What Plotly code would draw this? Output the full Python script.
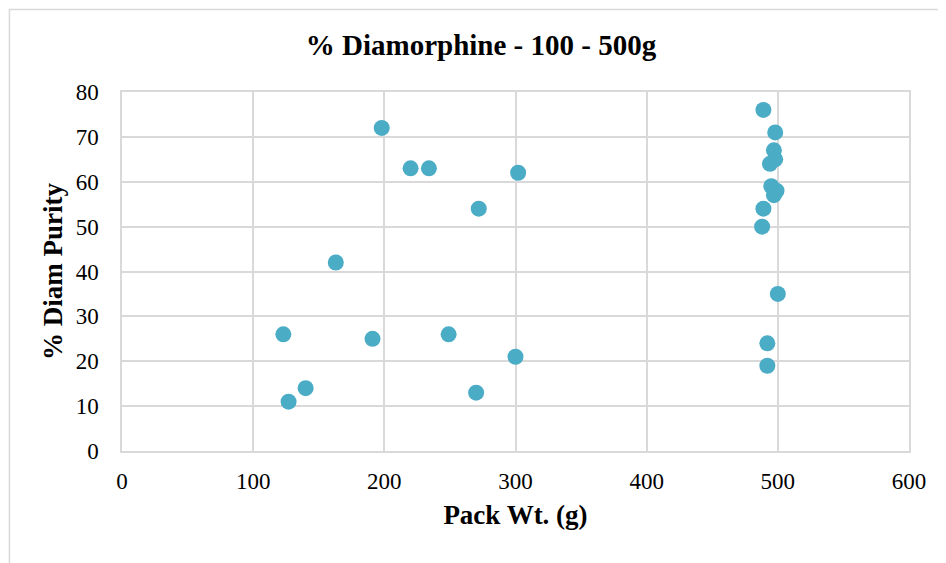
import plotly.graph_objects as go

# Pack weight (g) and % diamorphine purity
pack_wt = [489, 498, 497, 498, 494, 495, 499, 497, 489, 488, 500, 492, 492,
           198, 220, 234, 302, 272, 163, 123, 191, 249, 300, 140, 127, 270]
purity = [76, 71, 67, 65, 64, 59, 58, 57, 54, 50, 35, 24, 19,
          72, 63, 63, 62, 54, 42, 26, 25, 26, 21, 14, 11, 13]

x_ticks = [0, 100, 200, 300, 400, 500, 600]
y_ticks = [0, 10, 20, 30, 40, 50, 60, 70, 80]

FONT = "Liberation Serif, Times New Roman, serif"
GRID = "#d9d9d9"

fig = go.Figure()
fig.add_trace(go.Scatter(
    x=pack_wt,
    y=purity,
    mode="markers",
    marker=dict(color="#4bacc6", size=16),
    hoverinfo="x+y",
))

fig.update_layout(
    width=946,
    height=563,
    paper_bgcolor="white",
    plot_bgcolor="white",
    # page body adds 8px, so margins are shifted to land the plot where the original is
    margin=dict(l=114, r=45, t=84, b=120),
    showlegend=False,
    font=dict(family=FONT, size=23, color="black"),
    title=dict(
        text="<b>% Diamorphine - 100 - 500g</b>",
        x=0.5, xanchor="center",
        y=0.934, yanchor="middle",
        font=dict(family=FONT, size=29, color="black"),
    ),
    xaxis=dict(
        range=[0, 600],
        tickvals=x_ticks,
        showgrid=True, gridcolor=GRID, gridwidth=1.5,
        zeroline=False,
        showline=True, linecolor=GRID, linewidth=1.5, mirror=True,
        ticks="", ticklen=0,
        ticklabelstandoff=9,
        title=dict(text="<b>Pack Wt. (g)</b>", font=dict(family=FONT, size=27), standoff=12),
    ),
    yaxis=dict(
        range=[0, 80],
        tickvals=y_ticks,
        showgrid=True, gridcolor=GRID, gridwidth=1.5,
        zeroline=False,
        showline=True, linecolor=GRID, linewidth=1.5, mirror=True,
        ticks="", ticklen=0,
        ticklabelstandoff=17,
        title=dict(text="<b>% Diam Purity</b>", font=dict(family=FONT, size=27), standoff=5),
    ),
)

# light outer frame of the chart area
fig.add_shape(
    type="rect", xref="paper", yref="paper",
    x0=-0.143, x1=1.1, y0=-0.4, y1=1.23,
    line=dict(color=GRID, width=1.5), layer="below",
)

fig.write_html("out.html")
